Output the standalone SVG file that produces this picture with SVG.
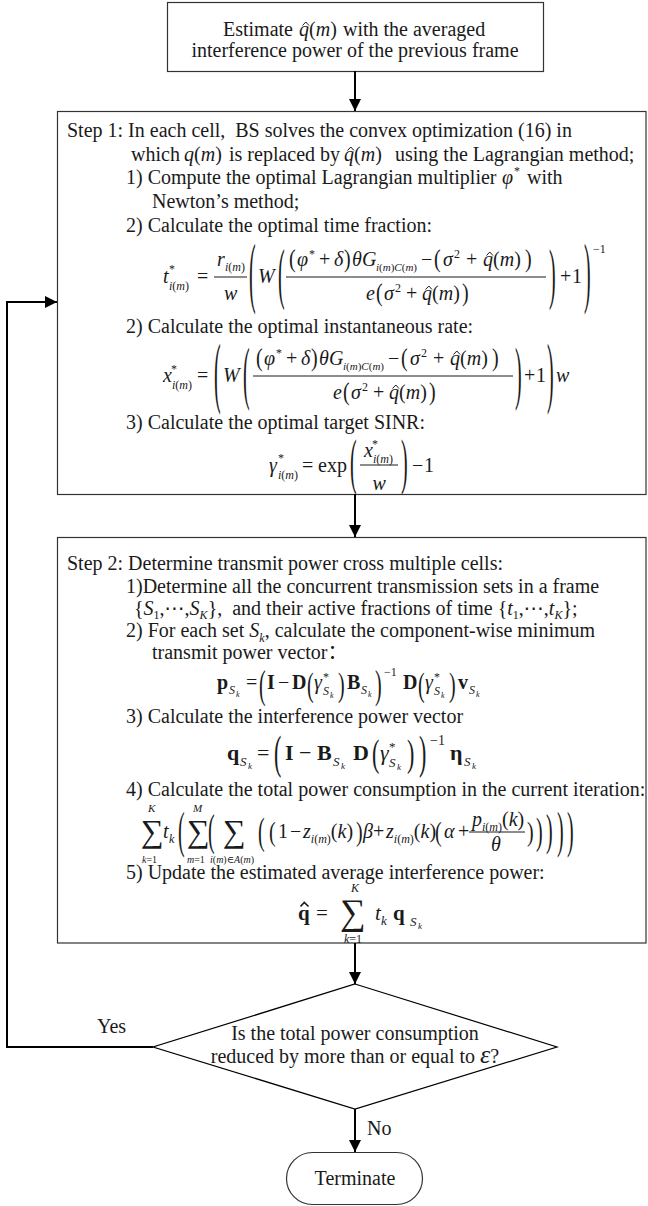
<svg xmlns="http://www.w3.org/2000/svg" width="648" height="1206" viewBox="0 0 648 1206">
<defs>
<style>
.tx{font-family:"Liberation Serif","DejaVu Serif","DejaVu Sans","Noto Sans CJK SC",serif;font-size:20px;fill:#1a1a1a}
.it{font-style:italic}
.sm{font-size:12px}
.s11{font-size:11px}
.s10{font-size:10px}
.xs{font-size:8px}
.bd{font-weight:bold}
.pre{white-space:pre}
.box{fill:#fff;stroke:#333;stroke-width:1.2}
.edge{fill:none;stroke:#000;stroke-width:2}
.bar{stroke:#1a1a1a;stroke-width:1}
.hat{fill:none;stroke:#1a1a1a;stroke-width:1}
</style>
<marker id="ah" markerUnits="userSpaceOnUse" markerWidth="12" markerHeight="12" refX="12" refY="6" orient="auto" viewBox="0 0 12 12">
<path d="M0,0 L12,6 L0,12 z" fill="#000"/>
</marker>
</defs>
<rect x="0" y="0" width="648" height="1206" fill="#fff"/>

<g id="n-estimate">
<rect class="box" x="167.5" y="2.5" width="376" height="69"/>
<text class="tx"><tspan x="223" y="36">Estimate</tspan><tspan class="it" x="299" y="36">q</tspan><tspan>(</tspan><tspan class="it">m</tspan><tspan>)</tspan><tspan x="343" y="36">with the averaged</tspan></text>
<polyline class="hat" points="302.5,25.5 305.8,22 309,25.5"/>
<text class="tx" x="355" y="57" text-anchor="middle">interference power of the previous frame</text>
</g>

<g id="n-step1">
<rect class="box" x="57.5" y="111.5" width="588.5" height="383"/>
<text class="tx pre" x="67" y="137">Step 1: In each cell,  BS solves the convex optimization (16) in</text>
<text class="tx"><tspan x="131" y="161">which</tspan><tspan class="it" x="184" y="161">q</tspan><tspan>(</tspan><tspan class="it">m</tspan><tspan>)</tspan><tspan x="229" y="161">is replaced by</tspan><tspan class="it" x="344" y="161">q</tspan><tspan>(</tspan><tspan class="it">m</tspan><tspan>)</tspan><tspan x="395" y="161">using the Lagrangian method;</tspan></text>
<polyline class="hat" points="347.5,150.5 350.8,147 354,150.5"/>
<text class="tx"><tspan x="126" y="184">1) Compute the optimal Lagrangian multiplier</tspan><tspan class="it" x="502" y="184">φ</tspan><tspan class="sm" x="514" y="175">*</tspan><tspan x="527" y="184">with</tspan></text>
<text class="tx" x="152" y="208">Newton’s method;</text>
<text class="tx" x="126" y="232">2) Calculate the optimal time fraction:</text>

<!-- t formula -->
<text class="tx"><tspan class="it" x="163" y="283">t</tspan><tspan class="sm" x="169" y="273">*</tspan><tspan class="sm it" x="169" y="290">i</tspan><tspan class="sm">(</tspan><tspan class="sm it">m</tspan><tspan class="sm">)</tspan><tspan x="197" y="283">=</tspan><tspan class="it" x="217" y="266">r</tspan><tspan class="sm it" x="225" y="271">i</tspan><tspan class="sm">(</tspan><tspan class="sm it">m</tspan><tspan class="sm">)</tspan><tspan class="it" x="224" y="300">w</tspan><tspan class="it" x="258" y="283">W</tspan><tspan x="560" y="283">+</tspan><tspan x="572" y="283">1</tspan><tspan class="sm" x="593" y="253">−1</tspan></text>
<line class="bar" x1="214" y1="277" x2="247" y2="277"/>
<text class="tx" transform="translate(249,298.3) scale(1,3.87)">(</text>
<text class="tx" transform="translate(584,298.3) scale(1,3.87)">)</text>
<text class="tx" transform="translate(278,296) scale(1,3.4)">(</text>
<text class="tx" transform="translate(549,296) scale(1,3.4)">)</text>
<g>
<text class="tx" transform="translate(289,266.6) scale(1,1.23)">(</text>
<text class="tx" transform="translate(344,266.6) scale(1,1.23)">)</text>
<text class="tx" transform="translate(434,266.6) scale(1,1.23)">(</text>
<text class="tx" transform="translate(525,266.6) scale(1,1.23)">)</text>
<text class="tx"><tspan class="it" x="297" y="266">φ</tspan><tspan class="sm" x="309" y="258">*</tspan><tspan x="319" y="266">+</tspan><tspan class="it" x="334" y="266">δ</tspan><tspan class="it" x="352" y="266">θ</tspan><tspan class="it" x="362" y="266">G</tspan><tspan class="s11 it" x="376" y="271">i</tspan><tspan class="s11">(</tspan><tspan class="s11 it">m</tspan><tspan class="s11">)</tspan><tspan class="s11 it">C</tspan><tspan class="s11">(</tspan><tspan class="s11 it">m</tspan><tspan class="s11">)</tspan><tspan x="421" y="266">−</tspan><tspan class="it" x="443" y="266">σ</tspan><tspan class="sm" x="454" y="258">2</tspan><tspan x="466" y="266">+</tspan><tspan class="it" x="483" y="266">q</tspan><tspan>(</tspan><tspan class="it">m</tspan><tspan>)</tspan></text>
<polyline class="hat" points="486.5,255.5 489.8,252 493,255.5"/>
<line class="bar" x1="286" y1="277" x2="546" y2="277"/>
<text class="tx" transform="translate(376,300.6) scale(1,1.23)">(</text>
<text class="tx" transform="translate(462,300.6) scale(1,1.23)">)</text>
<text class="tx"><tspan class="it" x="366" y="300">e</tspan><tspan class="it" x="384" y="300">σ</tspan><tspan class="sm" x="395" y="292">2</tspan><tspan x="406" y="300">+</tspan><tspan class="it" x="422" y="300">q</tspan><tspan>(</tspan><tspan class="it">m</tspan><tspan>)</tspan></text>
<polyline class="hat" points="425.5,289.5 428.8,286 432,289.5"/>
</g>

<text class="tx" x="126" y="333">2) Calculate the optimal instantaneous rate:</text>

<!-- x formula -->
<text class="tx"><tspan class="it" x="163" y="382">x</tspan><tspan class="sm" x="171" y="373">*</tspan><tspan class="sm it" x="172" y="389">i</tspan><tspan class="sm">(</tspan><tspan class="sm it">m</tspan><tspan class="sm">)</tspan><tspan x="197" y="382">=</tspan><tspan class="it" x="223" y="382">W</tspan><tspan x="524" y="382">+</tspan><tspan x="536" y="382">1</tspan><tspan class="it" x="556" y="382">w</tspan></text>
<text class="tx" transform="translate(214,398.1) scale(1,3.93)">(</text>
<text class="tx" transform="translate(547,398.1) scale(1,3.93)">)</text>
<text class="tx" transform="translate(243,395.8) scale(1,3.46)">(</text>
<text class="tx" transform="translate(515,395.8) scale(1,3.46)">)</text>
<g transform="translate(-33,99)">
<text class="tx" transform="translate(289,266.6) scale(1,1.23)">(</text>
<text class="tx" transform="translate(344,266.6) scale(1,1.23)">)</text>
<text class="tx" transform="translate(434,266.6) scale(1,1.23)">(</text>
<text class="tx" transform="translate(525,266.6) scale(1,1.23)">)</text>
<text class="tx"><tspan class="it" x="297" y="266">φ</tspan><tspan class="sm" x="309" y="258">*</tspan><tspan x="319" y="266">+</tspan><tspan class="it" x="334" y="266">δ</tspan><tspan class="it" x="352" y="266">θ</tspan><tspan class="it" x="362" y="266">G</tspan><tspan class="s11 it" x="376" y="271">i</tspan><tspan class="s11">(</tspan><tspan class="s11 it">m</tspan><tspan class="s11">)</tspan><tspan class="s11 it">C</tspan><tspan class="s11">(</tspan><tspan class="s11 it">m</tspan><tspan class="s11">)</tspan><tspan x="421" y="266">−</tspan><tspan class="it" x="443" y="266">σ</tspan><tspan class="sm" x="454" y="258">2</tspan><tspan x="466" y="266">+</tspan><tspan class="it" x="483" y="266">q</tspan><tspan>(</tspan><tspan class="it">m</tspan><tspan>)</tspan></text>
<polyline class="hat" points="486.5,255.5 489.8,252 493,255.5"/>
<line class="bar" x1="286" y1="277" x2="546" y2="277"/>
<text class="tx" transform="translate(376,300.6) scale(1,1.23)">(</text>
<text class="tx" transform="translate(462,300.6) scale(1,1.23)">)</text>
<text class="tx"><tspan class="it" x="366" y="300">e</tspan><tspan class="it" x="384" y="300">σ</tspan><tspan class="sm" x="395" y="292">2</tspan><tspan x="406" y="300">+</tspan><tspan class="it" x="422" y="300">q</tspan><tspan>(</tspan><tspan class="it">m</tspan><tspan>)</tspan></text>
<polyline class="hat" points="425.5,289.5 428.8,286 432,289.5"/>
</g>

<text class="tx" x="126" y="429">3) Calculate the optimal target SINR:</text>

<!-- gamma formula -->
<text class="tx"><tspan class="it" x="269" y="472">γ</tspan><tspan class="sm" x="278" y="462">*</tspan><tspan class="sm it" x="278" y="479">i</tspan><tspan class="sm">(</tspan><tspan class="sm it">m</tspan><tspan class="sm">)</tspan><tspan x="302" y="472">=</tspan><tspan x="318" y="472">exp</tspan><tspan class="it" x="364" y="457">x</tspan><tspan class="sm" x="372" y="448">*</tspan><tspan class="sm it" x="373" y="463">i</tspan><tspan class="sm">(</tspan><tspan class="sm it">m</tspan><tspan class="sm">)</tspan><tspan class="it" x="372.5" y="490">w</tspan><tspan x="412" y="472">−</tspan><tspan x="424" y="472">1</tspan></text>
<line class="bar" x1="360" y1="465" x2="398" y2="465"/>
<text class="tx" transform="translate(350,482) scale(1,3.11)">(</text>
<text class="tx" transform="translate(401,482) scale(1,3.11)">)</text>
</g>

<g id="n-step2">
<rect class="box" x="57.5" y="537.5" width="588.5" height="405.5"/>
<text class="tx" x="67" y="570">Step 2: Determine transmit power cross multiple cells:</text>
<text class="tx" x="126" y="593">1)Determine all the concurrent transmission sets in a frame</text>
<text class="tx pre" y="615"><tspan x="134">{</tspan><tspan class="it">S</tspan><tspan class="sm" dy="4">1</tspan><tspan dy="-4">,⋯,</tspan><tspan class="it">S</tspan><tspan class="sm it" dy="4">K</tspan><tspan dy="-4">},  and their active fractions of time {</tspan><tspan class="it">t</tspan><tspan class="sm" dy="4">1</tspan><tspan dy="-4">,⋯,</tspan><tspan class="it">t</tspan><tspan class="sm it" dy="4">K</tspan><tspan dy="-4">};</tspan></text>
<text class="tx" x="126" y="637">2) For each set <tspan class="it">S</tspan><tspan class="sm it" dy="5">k</tspan><tspan dy="-5">, calculate the component-wise minimum</tspan></text>
<text class="tx" x="152" y="659">transmit power vector：</text>

<!-- p formula -->
<text class="tx"><tspan class="bd" x="217" y="689">p</tspan><tspan class="sm it" x="229" y="694">S</tspan><tspan class="xs it" x="236" y="697">k</tspan><tspan x="246" y="689">=</tspan><tspan class="bd" x="267" y="689">I</tspan><tspan x="278" y="689">−</tspan><tspan class="bd" x="292" y="689">D</tspan><tspan class="it" x="314" y="689">γ</tspan><tspan class="sm" x="323" y="681">*</tspan><tspan class="sm it" x="323" y="695">S</tspan><tspan class="xs it" x="330" y="698">k</tspan><tspan class="bd" x="347" y="689">B</tspan><tspan class="sm it" x="361" y="694">S</tspan><tspan class="xs it" x="368" y="697">k</tspan><tspan class="sm" x="384" y="676">−1</tspan><tspan class="bd" x="403" y="689">D</tspan><tspan class="it" x="425" y="689">γ</tspan><tspan class="sm" x="434" y="681">*</tspan><tspan class="sm it" x="434" y="695">S</tspan><tspan class="xs it" x="441" y="698">k</tspan><tspan class="bd" x="458" y="689">v</tspan><tspan class="sm it" x="469" y="694">S</tspan><tspan class="xs it" x="476" y="697">k</tspan></text>
<text class="tx" transform="translate(259,697.7) scale(1,2.05)">(</text>
<text class="tx" transform="translate(375,697.7) scale(1,2.05)">)</text>
<text class="tx" transform="translate(307,696) scale(1,1.7)">(</text>
<text class="tx" transform="translate(338,696) scale(1,1.7)">)</text>
<text class="tx" transform="translate(418,696) scale(1,1.7)">(</text>
<text class="tx" transform="translate(449,696) scale(1,1.7)">)</text>

<text class="tx" x="126" y="723">3) Calculate the interference power vector</text>

<!-- q formula -->
<text class="tx" style="font-size:22px"><tspan class="bd" x="227" y="760">q</tspan><tspan class="it" style="font-size:13px" x="240" y="766">S</tspan><tspan class="it" style="font-size:9px" x="248" y="769">k</tspan><tspan x="257" y="760">=</tspan><tspan class="bd" x="285" y="760">I</tspan><tspan x="299" y="760">−</tspan><tspan class="bd" x="317" y="760">B</tspan><tspan class="it" style="font-size:13px" x="333" y="766">S</tspan><tspan class="it" style="font-size:9px" x="341" y="769">k</tspan><tspan class="bd" x="353" y="760">D</tspan><tspan class="it" x="380" y="760">γ</tspan><tspan style="font-size:13px" x="389" y="751">*</tspan><tspan class="it" style="font-size:13px" x="389" y="767">S</tspan><tspan class="it" style="font-size:9px" x="397" y="770">k</tspan><tspan style="font-size:14px" x="430" y="745">−1</tspan><tspan class="bd" x="450" y="760">η</tspan><tspan class="it" style="font-size:13px" x="464" y="766">S</tspan><tspan class="it" style="font-size:9px" x="472" y="769">k</tspan></text>
<text class="tx" style="font-size:22px" transform="translate(274,767.9) scale(1,2.08)">(</text>
<text class="tx" style="font-size:22px" transform="translate(419,767.9) scale(1,2.08)">)</text>
<text class="tx" style="font-size:22px" transform="translate(372,766.3) scale(1,1.7)">(</text>
<text class="tx" style="font-size:22px" transform="translate(407,766.3) scale(1,1.7)">)</text>

<text class="tx" x="126" y="796">4) Calculate the total power consumption in the current iteration:</text>

<!-- sum formula -->
<text class="tx"><tspan style="font-size:32px" x="141" y="842">∑</tspan><tspan class="s11 it" x="148" y="812">K</tspan><tspan class="it s10" x="142" y="863">k</tspan><tspan class="s10">=1</tspan><tspan class="it" x="163" y="838">t</tspan><tspan class="sm it" x="169" y="843">k</tspan><tspan style="font-size:32px" x="187" y="842">∑</tspan><tspan class="s11 it" x="193" y="812">M</tspan><tspan class="it s10" x="187" y="863">m</tspan><tspan class="s10">=1</tspan><tspan style="font-size:32px" x="223" y="842">∑</tspan><tspan class="it s10" x="210" y="863">i</tspan><tspan class="s10">(</tspan><tspan class="it s10">m</tspan><tspan class="s10">)∈</tspan><tspan class="it s10">A</tspan><tspan class="s10">(</tspan><tspan class="it s10">m</tspan><tspan class="s10">)</tspan><tspan x="278" y="838">1</tspan><tspan x="290" y="838">−</tspan><tspan class="it" x="303" y="838">z</tspan><tspan class="sm it" y="843">i</tspan><tspan class="sm">(</tspan><tspan class="sm it">m</tspan><tspan class="sm">)</tspan><tspan y="838">(</tspan><tspan class="it">k</tspan><tspan>)</tspan><tspan class="it" x="363" y="838">β</tspan><tspan x="373" y="838">+</tspan><tspan class="it" x="386" y="838">z</tspan><tspan class="sm it" y="843">i</tspan><tspan class="sm">(</tspan><tspan class="sm it">m</tspan><tspan class="sm">)</tspan><tspan y="838">(</tspan><tspan class="it">k</tspan><tspan>)</tspan><tspan class="it" x="444" y="838">α</tspan><tspan x="458" y="838">+</tspan><tspan class="it" x="472" y="826">p</tspan><tspan class="sm it" y="831">i</tspan><tspan class="sm">(</tspan><tspan class="sm it">m</tspan><tspan class="sm">)</tspan><tspan y="826">(</tspan><tspan class="it">k</tspan><tspan>)</tspan><tspan class="it" x="491" y="851">θ</tspan></text>
<line class="bar" x1="469" y1="832" x2="525" y2="832"/>
<text class="tx" transform="translate(178,846.9) scale(1,2.58)">(</text>
<text class="tx" transform="translate(208,845.3) scale(1,2.17)">(</text>
<text class="tx" transform="translate(258,844.1) scale(1,1.93)">(</text>
<text class="tx" transform="translate(269,841) scale(1,1.41)">(</text>
<text class="tx" transform="translate(356,841) scale(1,1.41)">)</text>
<text class="tx" transform="translate(435,841) scale(1,1.41)">(</text>
<text class="tx" transform="translate(527,841) scale(1,1.41)">)</text>
<text class="tx" transform="translate(536,844.1) scale(1,1.93)">)</text>
<text class="tx" transform="translate(546,845.3) scale(1,2.17)">)</text>
<text class="tx" transform="translate(557,846.9) scale(1,2.58)">)</text>
<text class="tx" transform="translate(567,846.9) scale(1,2.58)">)</text>

<text class="tx" x="126" y="879">5) Update the estimated average interference power:</text>

<!-- q hat formula -->
<text class="tx" style="font-size:21px"><tspan class="bd" x="298" y="920">q</tspan><tspan x="316" y="920">=</tspan><tspan style="font-size:36px" x="340" y="924">∑</tspan><tspan class="sm it" x="351" y="892">K</tspan><tspan class="sm it" x="344" y="943">k</tspan><tspan class="sm">=1</tspan><tspan class="it" x="375" y="920">t</tspan><tspan class="it" style="font-size:13px" x="381" y="925">k</tspan><tspan class="bd" x="393" y="920">q</tspan><tspan class="it" style="font-size:13px" x="410" y="926">S</tspan><tspan class="it" style="font-size:9px" x="418" y="929">k</tspan></text>
<polyline class="hat" style="stroke-width:1.6" points="300.5,906.5 304.3,902.5 308.5,906.5"/>
</g>

<g id="n-decision">
<polygon points="355,984 557,1047 355,1109 153,1047" fill="#fff" stroke="#000" stroke-width="1.2"/>
<text class="tx" x="355" y="1040" text-anchor="middle">Is the total power consumption</text>
<text class="tx" x="355" y="1063" text-anchor="middle">reduced by more than or equal to <tspan class="it" style="font-size:26px">ε</tspan>?</text>
</g>

<g id="n-terminate">
<rect class="box" x="286.5" y="1152.5" width="136" height="52" rx="26" ry="26"/>
<text class="tx" x="355" y="1185" text-anchor="middle">Terminate</text>
</g>

<g id="connectors">
<path class="edge" d="M355,71 V111" marker-end="url(#ah)"/>
<path class="edge" d="M355,494 V537" marker-end="url(#ah)"/>
<path class="edge" d="M355,943 V984" marker-end="url(#ah)"/>
<path class="edge" d="M355,1109 V1152" marker-end="url(#ah)"/>
<path class="edge" d="M153,1047 H7 V302 H57" marker-end="url(#ah)"/>
<text class="tx" x="97" y="1033">Yes</text>
<text class="tx" x="367" y="1135">No</text>
</g>
</svg>
